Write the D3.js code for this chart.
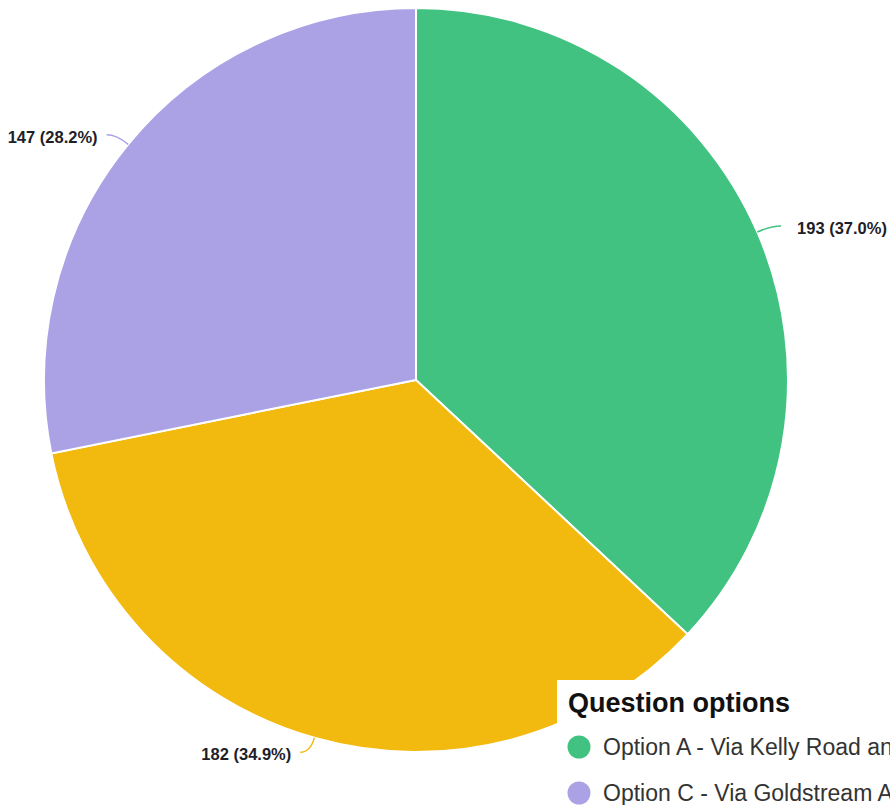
<!DOCTYPE html>
<html>
<head>
  <meta charset="utf-8">
  <script src="https://d3js.org/d3.v7.min.js"></script>
  <style type="text/css">
    body { margin: 0; background: #fff; overflow: hidden; }
    svg { display: block; font-family: "Liberation Sans", Arial, Helvetica, sans-serif; }
  </style>
</head>
<body>
  <div id="chartContainer"></div>
  <script type="text/javascript">
    var options = ['Option A - Via Kelly Road and', 'Option B', 'Option C - Via Goldstream Avenue'];
    var counts = [193, 182, 147];
    var colors = ['#41c281', '#f2b90f', '#aba2e6'];
    var legendOrder = [0, 2, 1];

    var width = 890,
    height = 805,
    radius = 372,
    cx = 416,
    cy = 380;

    var total = d3.sum(counts);
    var data = options.map(function(o, i) {
      return { name: o, value: counts[i], color: colors[i] };
    });

    var svg = d3.select('#chartContainer').append('svg')
        .attr('width', width)
        .attr('height', height);

    var g = svg.append('g').attr('transform', 'translate(' + cx + ',' + cy + ')');

    var pie = d3.pie().sort(null).value(function(d) { return d.value; });
    var arc = d3.arc().innerRadius(0).outerRadius(radius);
    var edgeArc = d3.arc().innerRadius(radius).outerRadius(radius);
    var outArc = d3.arc().innerRadius(radius + 15).outerRadius(radius + 15);

    var arcs = pie(data);

    g.selectAll('path.slice')
      .data(arcs)
      .enter().append('path')
      .attr('class', 'slice')
      .attr('d', arc)
      .attr('fill', function(d) { return d.data.color; })
      .attr('stroke', '#fff')
      .attr('stroke-width', 2);

    // leader lines + labels
    arcs.forEach(function(d) {
      var p0 = edgeArc.centroid(d),
      p1 = outArc.centroid(d),
      side = p1[0] >= 0 ? 1 : -1,
      p2 = [p1[0] + side * 10, p1[1]];

      g.append('path')
        .attr('d', 'M' + p0 + 'Q' + p1 + ' ' + p2)
        .attr('fill', 'none')
        .attr('stroke', d.data.color)
        .attr('stroke-width', 1.5);

      g.append('text')
        .attr('x', p2[0] + (side > 0 ? 16 : -9))
        .attr('y', p2[1] + 2)
        .attr('dy', '0.35em')
        .style('text-anchor', side > 0 ? 'start' : 'end')
        .style('font-size', '16.5px')
        .style('font-weight', 'bold')
        .style('fill', '#1e1e28')
        .text(d.data.value + ' (' + (d.data.value / total * 100).toFixed(1) + '%)');
    });

    // legend (runs off the right/bottom edge as in the original)
    var legend = svg.append('g').attr('transform', 'translate(557,680)');
    legend.append('rect')
      .attr('width', 400)
      .attr('height', 200)
      .attr('fill', '#fff');
    legend.append('text')
      .attr('x', 11)
      .attr('y', 32)
      .style('font-size', '27px')
      .style('font-weight', 'bold')
      .style('fill', '#111')
      .text('Question options');

    var items = legend.selectAll('g.item')
      .data(legendOrder)
      .enter().append('g')
      .attr('class', 'item')
      .attr('transform', function(d, i) { return 'translate(0,' + (67 + i * 46) + ')'; });
    items.append('circle')
      .attr('cx', 22)
      .attr('cy', 0)
      .attr('r', 11.5)
      .attr('fill', function(d) { return colors[d]; });
    items.append('text')
      .attr('x', 46)
      .attr('y', 0)
      .attr('dy', '0.35em')
      .style('font-size', '23px')
      .style('fill', '#333')
      .text(function(d) { return options[d]; });
  </script>
</body>
</html>
